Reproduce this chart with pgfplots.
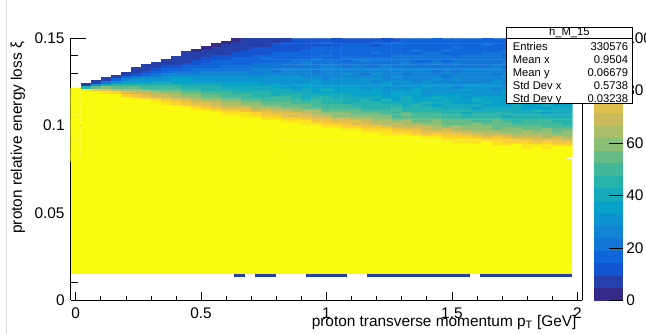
\documentclass[border=0pt]{standalone}
\usepackage{fontspec}
\setmainfont{Liberation Sans}
\usepackage{pgfplots}
\pgfplotsset{compat=1.18}
\definecolor{bk1}{rgb}{0.1455,0.2479,0.6721}
\definecolor{byel}{rgb}{0.9764,0.9832,0.0539}
\begin{document}
\begin{tikzpicture}
\begin{axis}[name=main,
  at={(70.7pt,33.7pt)}, anchor=south west,
  scale only axis, width=511.6pt, height=262pt,
  xmin=-0.02, xmax=2.02, ymin=0, ymax=0.15, enlargelimits=false,
  axis lines=left, axis line style={-, line width=0.8pt, black},
  tick align=inside, tick style={line width=0.7pt, black},
  major tick length=15pt, minor tick length=7.5pt,
  every major x tick/.append style={/pgfplots/major tick length=8pt},
  every minor x tick/.append style={/pgfplots/minor tick length=4pt},
  xtick={0,0.5,1,1.5,2}, xticklabels={0,0.5,1,1.5,2},
  ytick={0,0.05,0.1,0.15}, yticklabels={0,0.05,0.1,0.15},
  minor x tick num=4, minor y tick num=4,
  scaled ticks=false,
  tick label style={font=\fontsize{15.4}{18}\selectfont},
  xticklabel style={anchor=base, yshift=-18pt},
  yticklabel style={xshift=-2.6pt},
  label style={font=\fontsize{15.4}{18}\selectfont},
  xlabel={proton transverse momentum p\textsubscript{T} [GeV]},
  ylabel={proton relative energy loss ξ},
  xlabel style={at={(axis description cs:1,0)}, anchor=base east, yshift=-26.2pt, xshift=-2.3pt},
  ylabel style={at={([xshift=-48.7pt]axis description cs:0,1)}, anchor=base east},
  colormap={bird}{rgb=(0.2082,0.1664,0.5293) rgb=(0.1455,0.2479,0.6721) rgb=(0.0827,0.3293,0.8148) rgb=(0.0641,0.3978,0.8605) rgb=(0.0721,0.4585,0.8479) rgb=(0.0722,0.5186,0.8336) rgb=(0.0492,0.5766,0.8137) rgb=(0.0261,0.6346,0.7939) rgb=(0.0810,0.6698,0.7366) rgb=(0.1471,0.7018,0.6739) rgb=(0.2539,0.7244,0.6054) rgb=(0.4012,0.7376,0.5312) rgb=(0.5453,0.7483,0.4601) rgb=(0.6668,0.7414,0.4111) rgb=(0.7882,0.7345,0.3621) rgb=(0.8745,0.7497,0.3016) rgb=(0.9490,0.7721,0.2371) rgb=(0.9926,0.8173,0.1742) rgb=(0.9845,0.9002,0.1141) rgb=(0.9764,0.9832,0.0539) rgb=(0.9764,0.9832,0.0539)},
  colormap access=piecewise constant,
  point meta min=0, point meta max=100,
  colorbar,
  colorbar style={at={(parent axis.north east)}, anchor=north west, xshift=2.7pt,
    scale only axis, width=29.3pt, height=262pt,
    axis lines=box, axis line style={draw=none},
    ytick={0,20,40,60,80,100}, yticklabels={0,20,40,60,80,100},
    minor y tick num=0, ytick pos=right, yticklabel pos=right,
    tick align=inside, major tick length=14pt, xtick=\empty},
]
\addplot[draw=none, fill=byel] coordinates {(-0.02,0.015) (1.98,0.015) (1.98,0.081) (-0.02,0.081)} -- cycle;
\addplot[matrix plot*, point meta=explicit, mesh/ordering=y varies, mesh/rows=47, mesh/cols=50, unbounded coords=jump]
 table[row sep=\\, header=false, x expr={0.04*floor(\coordindex/47)}, y expr={0.08025+0.0015*mod(\coordindex,47)}, meta index=0] {
150\\150\\150\\150\\150\\150\\150\\150\\150\\150\\150\\150\\150\\150\\150\\150\\150\\150\\150\\150\\150\\150\\150\\150\\150\\150\\150\\150\\nan\\nan\\nan\\nan\\nan\\nan\\nan\\nan\\nan\\nan\\nan\\nan\\nan\\nan\\nan\\nan\\nan\\nan\\nan\\
150\\150\\150\\150\\150\\150\\150\\150\\150\\150\\150\\150\\150\\150\\150\\150\\150\\150\\150\\150\\150\\150\\150\\150\\150\\150\\150\\87\\44\\9\\nan\\nan\\nan\\nan\\nan\\nan\\nan\\nan\\nan\\nan\\nan\\nan\\nan\\nan\\nan\\nan\\nan\\
150\\150\\150\\150\\150\\150\\150\\150\\150\\150\\150\\150\\150\\150\\150\\150\\150\\150\\150\\150\\150\\150\\150\\150\\150\\150\\95\\79\\57\\29\\8\\nan\\nan\\nan\\nan\\nan\\nan\\nan\\nan\\nan\\nan\\nan\\nan\\nan\\nan\\nan\\nan\\
150\\150\\150\\150\\150\\150\\150\\150\\150\\150\\150\\150\\150\\150\\150\\150\\150\\150\\150\\150\\150\\150\\150\\150\\150\\98\\88\\74\\58\\41\\22\\7\\nan\\nan\\nan\\nan\\nan\\nan\\nan\\nan\\nan\\nan\\nan\\nan\\nan\\nan\\nan\\
150\\150\\150\\150\\150\\150\\150\\150\\150\\150\\150\\150\\150\\150\\150\\150\\150\\150\\150\\150\\150\\150\\150\\150\\150\\91\\81\\70\\57\\45\\32\\18\\7\\nan\\nan\\nan\\nan\\nan\\nan\\nan\\nan\\nan\\nan\\nan\\nan\\nan\\nan\\
150\\150\\150\\150\\150\\150\\150\\150\\150\\150\\150\\150\\150\\150\\150\\150\\150\\150\\150\\150\\150\\150\\150\\150\\94\\85\\76\\66\\56\\46\\36\\26\\15\\7\\nan\\nan\\nan\\nan\\nan\\nan\\nan\\nan\\nan\\nan\\nan\\nan\\nan\\
150\\150\\150\\150\\150\\150\\150\\150\\150\\150\\150\\150\\150\\150\\150\\150\\150\\150\\150\\150\\150\\150\\150\\96\\88\\80\\71\\63\\54\\46\\38\\30\\22\\14\\8\\6\\nan\\nan\\nan\\nan\\nan\\nan\\nan\\nan\\nan\\nan\\nan\\
150\\150\\150\\150\\150\\150\\150\\150\\150\\150\\150\\150\\150\\150\\150\\150\\150\\150\\150\\150\\150\\150\\99\\91\\83\\75\\67\\60\\52\\45\\38\\32\\25\\19\\12\\8\\5\\nan\\nan\\nan\\nan\\nan\\nan\\nan\\nan\\nan\\nan\\
150\\150\\150\\150\\150\\150\\150\\150\\150\\150\\150\\150\\150\\150\\150\\150\\150\\150\\150\\150\\150\\150\\93\\86\\78\\71\\64\\57\\51\\45\\39\\33\\27\\22\\16\\11\\8\\6\\nan\\nan\\nan\\nan\\nan\\nan\\nan\\nan\\nan\\
150\\150\\150\\150\\150\\150\\150\\150\\150\\150\\150\\150\\150\\150\\150\\150\\150\\150\\150\\150\\150\\96\\88\\81\\74\\67\\61\\55\\49\\44\\39\\33\\29\\24\\19\\15\\10\\7\\6\\nan\\nan\\nan\\nan\\nan\\nan\\nan\\nan\\
150\\150\\150\\150\\150\\150\\150\\150\\150\\150\\150\\150\\150\\150\\150\\150\\150\\150\\150\\150\\98\\91\\83\\77\\70\\64\\58\\53\\48\\43\\38\\34\\29\\25\\21\\17\\13\\9\\7\\6\\nan\\nan\\nan\\nan\\nan\\nan\\nan\\
150\\150\\150\\150\\150\\150\\150\\150\\150\\150\\150\\150\\150\\150\\150\\150\\150\\150\\150\\150\\93\\86\\79\\73\\67\\61\\56\\51\\46\\42\\38\\34\\30\\26\\22\\19\\16\\12\\9\\7\\6\\5\\nan\\nan\\nan\\nan\\nan\\
150\\150\\150\\150\\150\\150\\150\\150\\150\\150\\150\\150\\150\\150\\150\\150\\150\\150\\150\\96\\88\\82\\75\\69\\64\\59\\54\\49\\45\\41\\37\\33\\30\\27\\23\\20\\17\\14\\11\\8\\6\\5\\4\\nan\\nan\\nan\\nan\\
150\\150\\150\\150\\150\\150\\150\\150\\150\\150\\150\\150\\150\\150\\150\\150\\150\\150\\98\\91\\84\\78\\72\\66\\61\\56\\52\\47\\44\\40\\37\\33\\30\\27\\24\\21\\19\\16\\13\\11\\8\\7\\5\\4\\nan\\nan\\nan\\
150\\150\\150\\150\\150\\150\\150\\150\\150\\150\\150\\150\\150\\150\\150\\150\\150\\150\\94\\87\\80\\74\\68\\63\\58\\54\\50\\46\\43\\39\\36\\33\\30\\27\\25\\22\\19\\17\\15\\12\\10\\8\\7\\5\\4\\nan\\nan\\
150\\150\\150\\150\\150\\150\\150\\150\\150\\150\\150\\150\\150\\150\\150\\150\\150\\97\\89\\83\\76\\71\\66\\61\\56\\52\\48\\45\\41\\38\\35\\33\\30\\27\\25\\23\\20\\18\\16\\14\\11\\9\\7\\6\\5\\4\\nan\\
150\\150\\150\\150\\150\\150\\150\\150\\150\\150\\150\\150\\150\\150\\150\\150\\99\\94\\89\\84\\76\\70\\63\\58\\54\\50\\47\\44\\41\\38\\35\\32\\30\\27\\25\\23\\21\\19\\17\\15\\13\\11\\9\\7\\6\\5\\4\\
150\\150\\150\\150\\150\\150\\150\\150\\150\\150\\150\\150\\150\\150\\150\\150\\95\\90\\86\\80\\73\\67\\60\\56\\52\\49\\46\\42\\40\\37\\34\\32\\30\\27\\25\\23\\21\\19\\17\\16\\14\\12\\10\\9\\7\\6\\5\\
150\\150\\150\\150\\150\\150\\150\\150\\150\\150\\150\\150\\150\\150\\150\\99\\93\\88\\83\\75\\66\\63\\58\\54\\51\\47\\47\\41\\39\\36\\34\\32\\29\\27\\22\\24\\22\\20\\18\\19\\15\\13\\11\\10\\8\\7\\5\\
150\\150\\150\\150\\150\\150\\150\\150\\150\\150\\150\\150\\150\\150\\150\\94\\89\\85\\80\\76\\67\\60\\56\\50\\49\\46\\43\\41\\41\\36\\33\\31\\29\\24\\26\\24\\22\\20\\19\\20\\15\\14\\12\\11\\9\\8\\6\\
150\\150\\150\\150\\150\\150\\150\\150\\150\\150\\150\\150\\150\\150\\97\\92\\87\\82\\75\\69\\65\\58\\55\\51\\48\\42\\42\\40\\37\\38\\33\\31\\29\\27\\23\\24\\22\\21\\19\\18\\19\\15\\13\\12\\10\\9\\8\\
150\\150\\150\\150\\150\\150\\150\\150\\150\\150\\150\\150\\150\\150\\94\\88\\84\\76\\72\\67\\60\\54\\53\\50\\50\\44\\41\\39\\37\\31\\32\\31\\29\\27\\26\\27\\22\\21\\19\\18\\17\\15\\12\\13\\11\\10\\9\\
150\\150\\150\\150\\150\\150\\150\\150\\150\\150\\150\\150\\150\\97\\92\\87\\82\\75\\72\\62\\58\\55\\48\\48\\45\\46\\40\\38\\33\\34\\32\\30\\32\\27\\25\\24\\22\\21\\23\\18\\17\\16\\13\\13\\12\\11\\10\\
150\\150\\150\\150\\150\\150\\150\\150\\150\\150\\150\\150\\150\\93\\88\\87\\79\\72\\67\\63\\57\\53\\50\\47\\41\\42\\40\\40\\35\\34\\32\\30\\25\\27\\25\\24\\23\\24\\20\\19\\17\\18\\15\\14\\13\\11\\10\\
150\\150\\150\\150\\150\\150\\150\\150\\150\\150\\150\\150\\97\\92\\87\\79\\75\\69\\63\\62\\55\\52\\49\\49\\43\\41\\36\\37\\35\\33\\34\\30\\28\\27\\22\\24\\23\\21\\20\\21\\18\\17\\15\\16\\13\\12\\11\\
150\\150\\150\\150\\150\\150\\150\\150\\150\\150\\150\\150\\93\\88\\84\\79\\75\\67\\61\\57\\50\\50\\47\\45\\45\\40\\38\\39\\34\\33\\31\\27\\28\\27\\25\\24\\26\\22\\20\\19\\20\\17\\16\\15\\14\\15\\12\\
150\\150\\150\\150\\150\\150\\150\\150\\150\\150\\150\\97\\92\\90\\82\\75\\69\\60\\59\\55\\52\\52\\46\\44\\39\\39\\37\\36\\37\\32\\31\\29\\25\\27\\25\\24\\26\\22\\21\\19\\18\\19\\16\\15\\14\\11\\12\\
150\\150\\150\\150\\150\\150\\150\\150\\150\\150\\150\\94\\89\\84\\77\\73\\67\\61\\60\\54\\51\\48\\42\\43\\41\\42\\37\\35\\34\\29\\31\\29\\28\\29\\25\\24\\23\\22\\19\\20\\19\\18\\17\\18\\15\\14\\13\\
150\\150\\150\\150\\150\\150\\150\\150\\150\\150\\97\\92\\88\\83\\75\\73\\63\\59\\53\\53\\50\\47\\47\\42\\40\\35\\36\\35\\36\\32\\30\\29\\25\\26\\25\\24\\26\\22\\21\\20\\17\\18\\17\\16\\17\\14\\13\\
150\\150\\150\\150\\150\\150\\150\\150\\150\\150\\94\\89\\82\\80\\73\\68\\65\\58\\54\\51\\46\\46\\44\\44\\40\\38\\36\\31\\33\\31\\33\\29\\27\\23\\25\\24\\23\\22\\24\\20\\19\\18\\15\\16\\15\\14\\14\\
150\\150\\150\\150\\150\\150\\150\\150\\150\\98\\93\\88\\83\\79\\70\\64\\60\\59\\53\\50\\45\\45\\43\\38\\39\\37\\38\\34\\32\\31\\27\\29\\27\\29\\25\\24\\23\\20\\21\\20\\19\\20\\17\\17\\14\\15\\14\\
150\\150\\150\\150\\150\\150\\150\\150\\150\\95\\90\\89\\81\\74\\65\\62\\58\\58\\52\\49\\44\\44\\42\\43\\38\\37\\32\\33\\32\\34\\29\\28\\24\\26\\25\\24\\26\\22\\21\\20\\17\\18\\18\\19\\16\\15\\14\\
150\\150\\150\\150\\150\\150\\150\\150\\99\\94\\89\\81\\77\\71\\68\\61\\57\\51\\51\\48\\49\\43\\41\\37\\38\\36\\38\\33\\32\\28\\29\\28\\30\\26\\25\\24\\21\\22\\21\\20\\22\\19\\18\\17\\18\\15\\14\\
150\\150\\150\\150\\150\\150\\150\\150\\97\\91\\87\\82\\72\\69\\63\\62\\56\\53\\53\\47\\45\\40\\41\\39\\40\\36\\34\\30\\32\\30\\32\\28\\27\\23\\25\\24\\23\\24\\21\\20\\20\\17\\18\\17\\18\\16\\15\\
150\\150\\150\\150\\150\\150\\150\\150\\94\\92\\85\\80\\76\\68\\62\\55\\55\\52\\52\\46\\44\\45\\40\\38\\34\\35\\34\\36\\31\\30\\26\\28\\27\\26\\28\\24\\23\\22\\19\\20\\20\\19\\20\\17\\16\\16\\15\\
150\\150\\150\\150\\150\\150\\150\\98\\93\\88\\80\\76\\70\\67\\60\\57\\56\\51\\48\\43\\43\\41\\43\\38\\36\\32\\33\\32\\34\\30\\29\\25\\27\\26\\25\\27\\23\\22\\19\\21\\20\\21\\18\\15\\17\\16\\15\\
150\\150\\150\\150\\150\\150\\150\\96\\91\\89\\81\\74\\66\\63\\59\\58\\53\\50\\50\\45\\43\\38\\39\\37\\39\\34\\33\\29\\31\\30\\28\\31\\27\\26\\22\\24\\23\\24\\21\\21\\20\\21\\18\\18\\15\\16\\15\\
150\\150\\150\\150\\150\\150\\150\\93\\88\\84\\80\\76\\67\\61\\55\\55\\52\\52\\46\\44\\39\\40\\39\\40\\36\\34\\30\\32\\31\\32\\28\\27\\23\\26\\25\\26\\23\\22\\19\\21\\20\\19\\20\\18\\17\\16\\16\\
150\\150\\150\\150\\150\\150\\98\\90\\88\\83\\79\\70\\64\\63\\57\\53\\48\\48\\46\\47\\42\\40\\35\\37\\35\\37\\33\\32\\27\\29\\28\\30\\26\\25\\22\\24\\23\\24\\21\\21\\18\\19\\19\\20\\17\\16\\16\\
150\\150\\150\\150\\150\\150\\95\\90\\86\\84\\74\\69\\60\\59\\56\\56\\50\\47\\42\\43\\41\\42\\38\\36\\32\\34\\32\\34\\30\\29\\25\\27\\26\\28\\25\\24\\21\\22\\23\\21\\20\\19\\17\\18\\17\\19\\16\\
150\\150\\150\\150\\150\\150\\93\\88\\87\\80\\73\\65\\61\\58\\58\\52\\49\\44\\44\\42\\38\\39\\37\\39\\35\\30\\32\\31\\33\\29\\28\\24\\26\\25\\27\\24\\23\\22\\20\\21\\22\\19\\19\\16\\17\\17\\16\\
150\\150\\150\\150\\150\\99\\93\\91\\84\\76\\67\\64\\60\\60\\54\\51\\51\\46\\44\\39\\40\\38\\40\\36\\34\\30\\32\\31\\33\\29\\28\\24\\26\\25\\28\\24\\23\\20\\22\\23\\20\\20\\17\\18\\20\\17\\16\\
150\\150\\150\\150\\150\\96\\88\\87\\82\\78\\69\\63\\56\\56\\53\\53\\48\\46\\46\\42\\40\\35\\37\\35\\37\\33\\32\\28\\30\\29\\31\\27\\26\\22\\25\\24\\25\\22\\20\\21\\20\\22\\19\\16\\18\\19\\16\\
150\\150\\150\\150\\150\\94\\89\\85\\83\\73\\68\\59\\58\\55\\55\\50\\47\\42\\43\\41\\42\\38\\36\\32\\34\\33\\35\\30\\30\\25\\28\\27\\29\\25\\25\\22\\23\\24\\22\\21\\18\\20\\21\\18\\16\\17\\17\\
150\\150\\150\\150\\100\\94\\93\\85\\77\\68\\65\\61\\61\\54\\52\\46\\47\\44\\40\\41\\39\\41\\36\\35\\31\\32\\31\\33\\29\\28\\25\\27\\26\\28\\24\\22\\23\\22\\24\\21\\18\\20\\21\\18\\18\\19\\17\\
150\\150\\150\\150\\98\\89\\88\\83\\79\\70\\64\\63\\57\\54\\48\\48\\46\\47\\42\\40\\36\\37\\36\\38\\33\\32\\28\\30\\29\\31\\27\\27\\23\\25\\26\\24\\23\\20\\22\\23\\20\\20\\17\\19\\20\\17\\17\\
150\\150\\150\\150\\96\\91\\87\\79\\75\\69\\66\\59\\56\\56\\50\\48\\43\\44\\42\\43\\38\\37\\33\\34\\33\\35\\31\\30\\26\\28\\27\\30\\26\\22\\24\\24\\25\\22\\20\\21\\20\\22\\19\\17\\18\\20\\17\\
150\\150\\150\\150\\94\\89\\88\\81\\74\\65\\62\\59\\58\\52\\50\\50\\45\\43\\38\\40\\38\\40\\35\\34\\30\\32\\31\\33\\29\\28\\24\\27\\28\\25\\25\\21\\23\\25\\22\\21\\19\\20\\22\\19\\16\\18\\17\\
150\\150\\150\\150\\93\\91\\84\\79\\76\\67\\61\\55\\55\\52\\52\\47\\45\\40\\41\\39\\41\\36\\35\\31\\33\\32\\34\\30\\29\\25\\27\\30\\26\\25\\21\\24\\26\\22\\22\\18\\21\\23\\19\\17\\18\\20\\17\\
150\\150\\150\\99\\93\\92\\84\\77\\68\\64\\61\\60\\54\\51\\46\\47\\44\\40\\41\\39\\41\\36\\35\\31\\33\\32\\34\\30\\29\\25\\27\\30\\26\\25\\21\\24\\26\\22\\22\\18\\21\\23\\19\\17\\18\\20\\17\\
};
\addplot[draw=none, fill=bk1] coordinates {(0.632,0.0135) (0.675,0.0135) (0.675,0.015) (0.632,0.015)} -- cycle;
\addplot[draw=none, fill=bk1] coordinates {(0.716,0.0135) (0.797,0.0135) (0.797,0.015) (0.716,0.015)} -- cycle;
\addplot[draw=none, fill=bk1] coordinates {(0.919,0.0135) (1.083,0.0135) (1.083,0.015) (0.919,0.015)} -- cycle;
\addplot[draw=none, fill=bk1] coordinates {(1.162,0.0135) (1.573,0.0135) (1.573,0.015) (1.162,0.015)} -- cycle;
\addplot[draw=none, fill=bk1] coordinates {(1.613,0.0135) (1.980,0.0135) (1.980,0.015) (1.613,0.015)} -- cycle;
\end{axis}
\draw[line width=0.8pt] (main.south east) -- (main.north east);
\draw[black!15, line width=0.6pt] (6.5pt,0pt) -- (6.5pt,334pt);
\draw[line width=0.7pt, fill=white] (506pt,230.7pt) rectangle (632.7pt,306.7pt);
\draw[line width=0.7pt] (506pt,295.7pt) -- (632.7pt,295.7pt);
\begin{scope}[every node/.style={inner sep=0pt, font=\fontsize{11.2}{13}\selectfont}]
\node[anchor=base] at (569.35pt,298pt) {h\_M\_15};
\node[anchor=base west] at (512.7pt,283.3pt) {Entries};
\node[anchor=base east] at (628.3pt,283.3pt) {330576};
\node[anchor=base west] at (512.7pt,270.3pt) {Mean x};
\node[anchor=base east] at (628.3pt,270.3pt) {0.9504};
\node[anchor=base west] at (512.7pt,257.3pt) {Mean y};
\node[anchor=base east] at (628.3pt,257.3pt) {0.06679};
\node[anchor=base west] at (512.7pt,244.3pt) {Std Dev x};
\node[anchor=base east] at (628.3pt,244.3pt) {0.5738};
\node[anchor=base west] at (512.7pt,231.3pt) {Std Dev y};
\node[anchor=base east] at (628.3pt,231.3pt) {0.03238};
\end{scope}
\pgfresetboundingbox
\useasboundingbox (0,0) rectangle (646pt,334pt);
\end{tikzpicture}
\end{document}
